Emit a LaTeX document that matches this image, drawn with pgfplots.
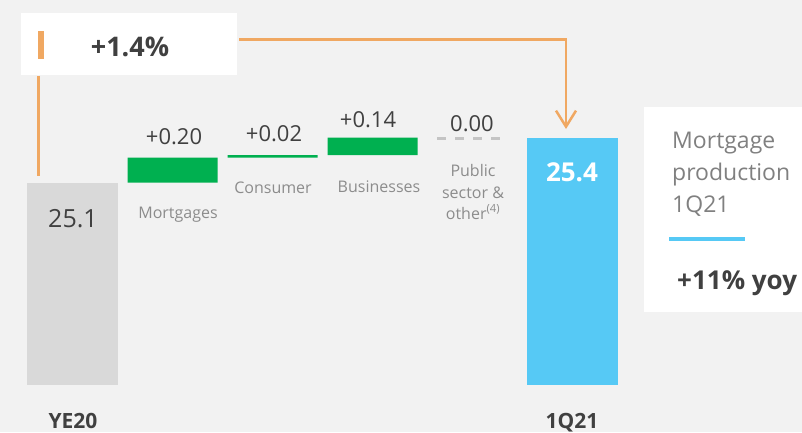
\documentclass[border=0pt]{standalone}
\usepackage{fontspec}
\setmainfont{Open Sans}
\usepackage{pgfplots}
\pgfplotsset{compat=1.18}
\usetikzlibrary{arrows.meta}

\definecolor{bg}{HTML}{F2F2F2}
\definecolor{totgray}{HTML}{D9D9D9}
\definecolor{totblue}{HTML}{56C9F5}
\definecolor{deltagreen}{HTML}{00B050}
\definecolor{dashgray}{HTML}{C4C4C4}
\definecolor{linkorange}{HTML}{F0A862}
\definecolor{dark}{HTML}{404040}
\definecolor{lbl}{HTML}{8C8C8C}
\definecolor{side}{HTML}{808080}

\pgfplotsset{wf/.style={at={(0pt,47pt)},anchor=south west,scale only axis,
  width=802pt,height=385pt,xmin=-0.725,xmax=7.295,ymin=23.48,ymax=26.56,hide axis}}

\begin{document}
\begin{tikzpicture}
\path[use as bounding box] (0,0) rectangle (802pt,432pt);
\fill[bg] (0,0) rectangle (802pt,432pt);

% totals
\begin{axis}[wf]
\addplot[ybar,bar width=91pt,bar shift=0pt,fill=totgray,draw=none] coordinates {(0,25.10)};
\addplot[ybar,bar width=91pt,bar shift=0pt,fill=totblue,draw=none] coordinates {(5,25.46)};
% public sector & other: 0.00
\addplot[draw=dashgray,line width=3pt,dash pattern=on 9pt off 9pt] coordinates {(3.645,25.45) (4.275,25.45)};
\end{axis}

% floating deltas
\begin{axis}[wf,ybar stacked,bar width=90pt]
\addplot[fill=none,draw=none] coordinates {(1,25.10) (2,25.30) (3,25.32)};
\addplot[fill=deltagreen,draw=none] coordinates {(1,0.20) (2,0.02) (3,0.14)};
\end{axis}

\begin{scope}[x=1pt,y=-1pt,shift={(0pt,432pt)}]
% +1.4% box and connector
\fill[white] (21,13) rectangle (237,75);
\fill[linkorange] (38,31) rectangle (44,59);
\node[anchor=base,text=dark,font=\bfseries\fontsize{27}{32}\selectfont] at (130,57) {+1.4\%};
\draw[linkorange,line width=2.5pt] (38.5,76) -- (38.5,176);
\draw[linkorange,line width=2.5pt,-{Straight Barb[length=16pt,width=20pt]}] (239,39.5) -- (566,39.5) -- (566,129);

% values
\node[anchor=base,text=dark,font=\fontsize{25}{29}\selectfont] at (73,227) {25.1};
\node[anchor=base,text=white,font=\bfseries\fontsize{26}{30}\selectfont] at (572,181) {25.4};
\node[anchor=base,text=dark,font=\fontsize{22}{26}\selectfont] at (174,144) {+0.20};
\node[anchor=base,text=dark,font=\fontsize{22}{26}\selectfont] at (274,141) {+0.02};
\node[anchor=base,text=dark,font=\fontsize{22}{26}\selectfont] at (368,127) {+0.14};
\node[anchor=base,text=dark,font=\fontsize{22}{26}\selectfont] at (472,131) {0.00};

% category labels
\node[anchor=base,text=lbl,font=\fontsize{16}{20}\selectfont] at (178,218) {Mortgages};
\node[anchor=base,text=lbl,font=\fontsize{16}{20}\selectfont] at (273,193) {Consumer};
\node[anchor=base,text=lbl,font=\fontsize{16}{20}\selectfont] at (379,192) {Businesses};
\node[anchor=base,text=lbl,font=\fontsize{16}{20}\selectfont] at (473,176) {Public};
\node[anchor=base,text=lbl,font=\fontsize{16}{20}\selectfont] at (473,198) {sector \&};
\node[anchor=base,text=lbl,font=\fontsize{16}{20}\selectfont] at (473,219) {other\textsuperscript{(4)}};
\node[anchor=base,text=dark,font=\bfseries\fontsize{21}{25}\selectfont] at (73,428) {YE20};
\node[anchor=base,text=dark,font=\bfseries\fontsize{21}{25}\selectfont] at (572,428) {1Q21};

% side box
\fill[white] (644,107) rectangle (802,312);
\node[anchor=base west,inner sep=0pt,text=side,font=\fontsize{23}{28}\selectfont] at (672,148) {Mortgage};
\node[anchor=base west,inner sep=0pt,text=side,font=\fontsize{23}{28}\selectfont] at (672,180) {production};
\node[anchor=base west,inner sep=0pt,text=side,font=\fontsize{23}{28}\selectfont] at (672,212) {1Q21};
\fill[totblue] (669,237) rectangle (745,241);
\node[anchor=base west,inner sep=0pt,text=dark,font=\bfseries\fontsize{26}{30}\selectfont] at (677,289) {+11\% yoy};
\end{scope}
\end{tikzpicture}
\end{document}
